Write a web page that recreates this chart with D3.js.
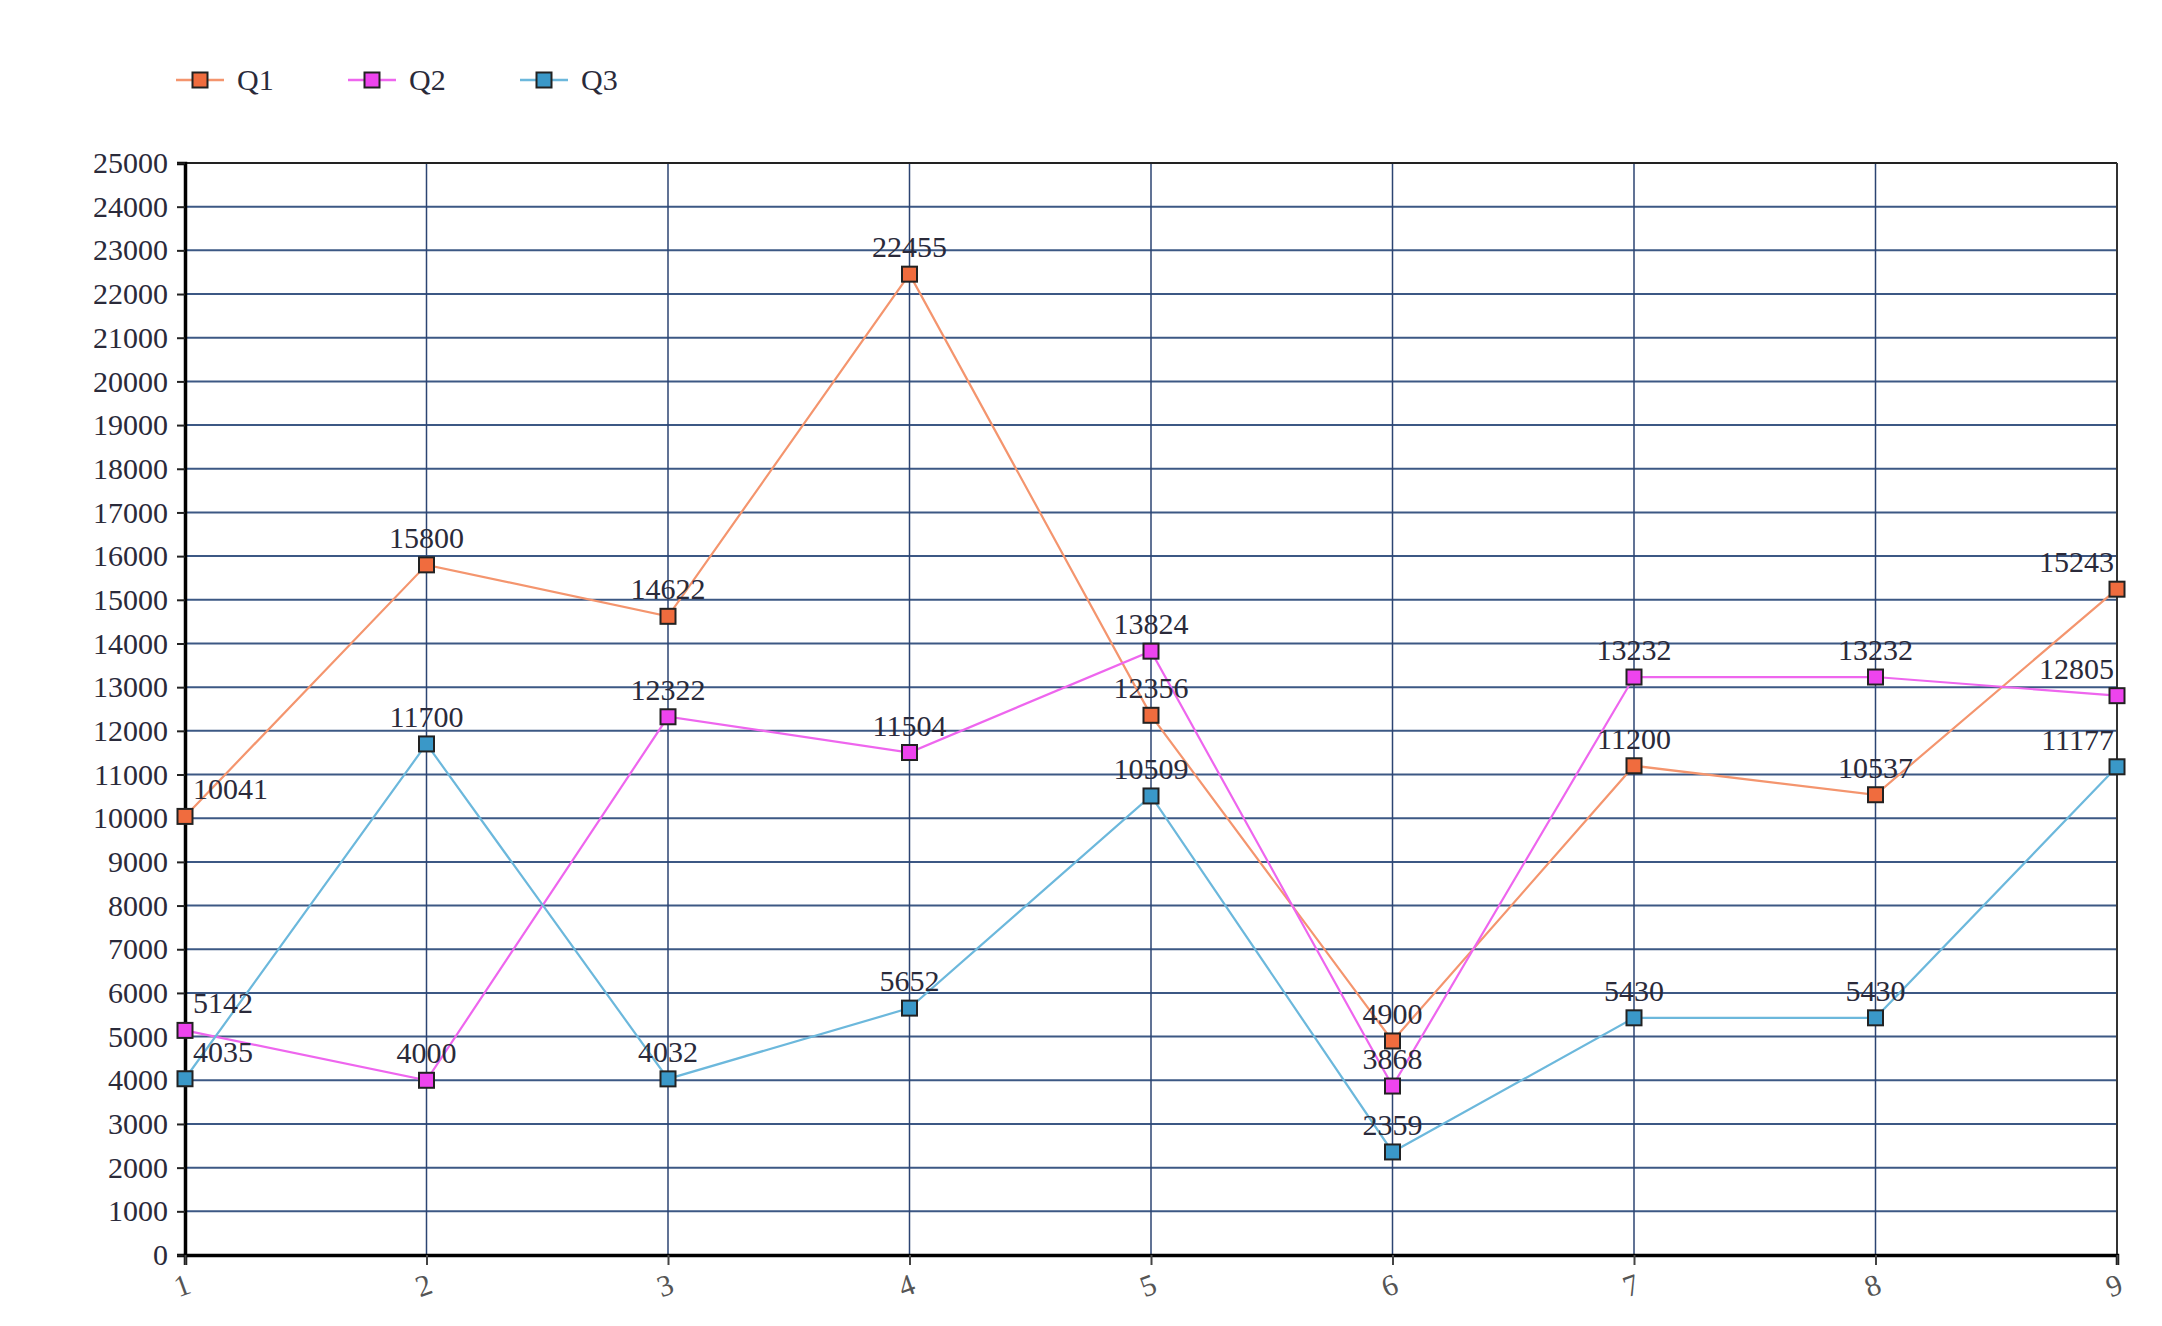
<!DOCTYPE html>
<html><head><meta charset="utf-8">
<script src="https://cdn.jsdelivr.net/npm/d3@7"></script>
<style>html,body{margin:0;padding:0;background:#fff;}svg{display:block;}</style>
</head><body>
<svg id="chart" width="2162" height="1326"></svg>
<script>
const categories = ["1","2","3","4","5","6","7","8","9"];
const seriesNames = ["Q1","Q2","Q3"];
const q1 = [10041, 15800, 14622, 22455, 12356, 4900, 11200, 10537, 15243];
const q2 = [5142, 4000, 12322, 11504, 13824, 3868, 13232, 13232, 12805];
const q3 = [4035, 11700, 4032, 5652, 10509, 2359, 5430, 5430, 11177];
const yTicks = d3.range(0, 25001, 1000);
const lineColors = ["#f4956e", "#ee66ee", "#6cb8dc"];
const markerColors = ["#f06c3e", "#ee44ee", "#3a98c8"];

const series = [q1, q2, q3];
const svg = d3.select("#chart");
const M = {left: 185, right: 2117, top: 163, bottom: 1255};
const FONT = "'Liberation Serif', serif";

const x = d3.scalePoint().domain(categories).range([M.left, M.right]);
const y = d3.scaleLinear().domain([0, 25000]).range([M.bottom, M.top]);

// horizontal grid
svg.append("g").selectAll("line").data(yTicks).join("line")
  .attr("x1", M.left).attr("x2", M.right)
  .attr("y1", d => y(d)).attr("y2", d => y(d))
  .attr("stroke", "#3c5884").attr("stroke-width", 2);
// vertical grid
svg.append("g").selectAll("line").data(categories).join("line")
  .attr("x1", d => x(d)).attr("x2", d => x(d))
  .attr("y1", M.top).attr("y2", M.bottom)
  .attr("stroke", "#2c4472").attr("stroke-width", 1.5);

// frame top/right
svg.append("line").attr("x1", M.left).attr("x2", M.right).attr("y1", M.top).attr("y2", M.top)
  .attr("stroke", "#222").attr("stroke-width", 2);
svg.append("line").attr("x1", M.right).attr("x2", M.right).attr("y1", M.top).attr("y2", M.bottom)
  .attr("stroke", "#333").attr("stroke-width", 2);

// y axis
const yAxis = svg.append("g").attr("transform", `translate(${M.left},0)`)
  .call(d3.axisLeft(y).tickValues(yTicks).tickFormat(d3.format("d")).tickSize(8).tickPadding(9));
yAxis.select(".domain").attr("stroke", "#000").attr("stroke-width", 3.5);
yAxis.selectAll(".tick line").attr("stroke", "#222").attr("stroke-width", 2);
yAxis.selectAll("text").attr("font-family", FONT).attr("font-size", 30).attr("fill", "#2a2a3a");

// x axis
const xAxis = svg.append("g").attr("transform", `translate(0,${M.bottom})`)
  .call(d3.axisBottom(x).tickSize(10).tickPadding(0));
xAxis.select(".domain").attr("stroke", "#000").attr("stroke-width", 3.5);
xAxis.selectAll(".tick line").attr("stroke", "#444").attr("stroke-width", 2);
xAxis.selectAll("text").attr("font-family", FONT).attr("font-size", 30).attr("fill", "#555")
  .attr("dy", null).attr("y", 0)
  .attr("transform", "translate(0,40) rotate(-20)")
  .attr("text-anchor", "middle");

// lines
const line = d3.line().x((d, i) => x(categories[i])).y(d => y(d));
series.forEach((s, k) => {
  svg.append("path").datum(s).attr("d", line)
    .attr("fill", "none").attr("stroke", lineColors[k]).attr("stroke-width", 2.2);
});

// markers
const MS = 15;
series.forEach((s, k) => {
  svg.append("g").selectAll("rect").data(s).join("rect")
    .attr("x", (d, i) => x(categories[i]) - MS / 2)
    .attr("y", d => y(d) - MS / 2)
    .attr("width", MS).attr("height", MS)
    .attr("fill", markerColors[k]).attr("stroke", "#222").attr("stroke-width", 2);
});

// labels
series.forEach((s, k) => {
  svg.append("g").selectAll("text").data(s).join("text")
    .attr("x", (d, i) => i === 0 ? x(categories[i]) + 8 : (i === categories.length - 1 ? x(categories[i]) - 3 : x(categories[i])))
    .attr("y", d => y(d) - 17)
    .attr("text-anchor", (d, i) => i === 0 ? "start" : (i === categories.length - 1 ? "end" : "middle"))
    .attr("font-family", FONT).attr("font-size", 30).attr("fill", "#2a2a3a")
    .text(d => d);
});

// legend
const lg = svg.append("g");
seriesNames.forEach((n, k) => {
  const x0 = 176 + k * 172, yy = 80;
  lg.append("line").attr("x1", x0).attr("x2", x0 + 48).attr("y1", yy).attr("y2", yy)
    .attr("stroke", lineColors[k]).attr("stroke-width", 2.5);
  lg.append("rect").attr("x", x0 + 24 - MS / 2).attr("y", yy - MS / 2).attr("width", MS).attr("height", MS)
    .attr("fill", markerColors[k]).attr("stroke", "#222").attr("stroke-width", 2);
  lg.append("text").attr("x", x0 + 61).attr("y", yy + 10)
    .attr("font-family", FONT).attr("font-size", 30).attr("fill", "#2a2a3a").text(n);
});
</script>
</body></html>
